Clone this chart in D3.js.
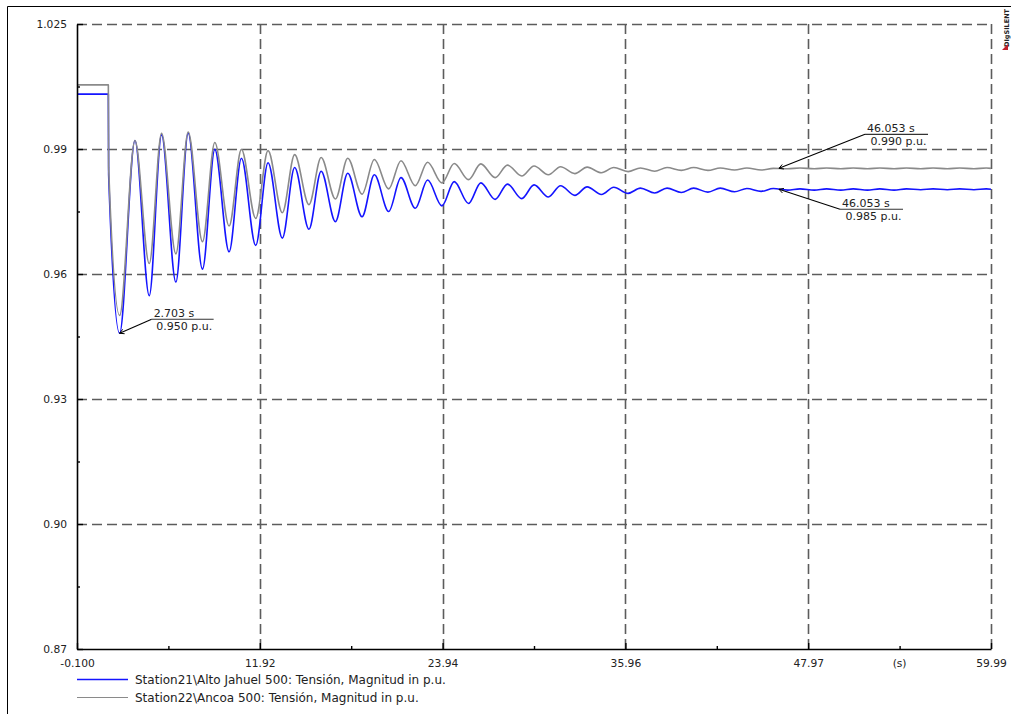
<!DOCTYPE html>
<html><head><meta charset="utf-8">
<script src="https://cdn.jsdelivr.net/npm/d3@7"></script>
<style>
body{margin:0;background:#fff;}
svg{display:block;}
text{font-family:"DejaVu Sans",sans-serif;fill:#222;}
</style>
</head><body>
<svg id="c" width="1011" height="714"></svg>
<script>
// ---- data ----
const timeS = [-0.1, 1.96, 1.98, 2.703, 3.71, 4.65, 5.46, 6.40, 7.21, 8.15, 8.96, 9.90, 10.71, 11.65, 12.46, 13.40, 14.21, 15.15, 15.95, 16.89, 17.70, 18.64, 19.45, 20.39, 21.20, 22.14, 22.95, 23.89, 24.70, 25.64, 26.45, 27.39, 28.20, 29.14, 29.95, 30.89, 31.69, 32.63, 33.44, 34.38, 35.19, 36.13, 36.94, 37.88, 38.69, 39.63, 40.44, 41.38, 42.19, 43.13, 43.94, 44.88, 45.68, 46.62, 47.43, 48.37, 49.18, 50.12, 50.93, 51.87, 52.68, 53.62, 54.43, 55.37, 56.18, 57.12, 57.93, 58.87, 59.68, 59.99];
const altoJahuel = [1.0076, 1.0076, 0.9876, 0.9483, 0.9961, 0.9576, 0.9975, 0.9610, 0.9979, 0.9642, 0.9939, 0.9685, 0.9917, 0.9701, 0.9906, 0.9719, 0.9894, 0.9741, 0.9885, 0.9760, 0.9880, 0.9772, 0.9876, 0.9785, 0.9869, 0.9793, 0.9863, 0.9799, 0.9859, 0.9805, 0.9856, 0.9815, 0.9853, 0.9817, 0.9851, 0.9821, 0.9849, 0.9825, 0.9846, 0.9827, 0.9845, 0.9830, 0.9843, 0.9831, 0.9843, 0.9832, 0.9843, 0.9833, 0.9843, 0.9834, 0.9842, 0.9835, 0.9842, 0.9838, 0.9841, 0.9838, 0.9841, 0.9838, 0.9841, 0.9838, 0.9841, 0.9838, 0.9841, 0.9839, 0.9841, 0.9839, 0.9841, 0.9839, 0.9841, 0.9840];
const ancoa = [1.0099, 1.0099, 0.9895, 0.9527, 0.9961, 0.9656, 0.9979, 0.9680, 0.9982, 0.9710, 0.9956, 0.9749, 0.9939, 0.9768, 0.9936, 0.9782, 0.9926, 0.9802, 0.9919, 0.9816, 0.9917, 0.9828, 0.9914, 0.9841, 0.9911, 0.9849, 0.9907, 0.9856, 0.9904, 0.9864, 0.9903, 0.9869, 0.9900, 0.9873, 0.9898, 0.9876, 0.9896, 0.9879, 0.9895, 0.9881, 0.9894, 0.9884, 0.9893, 0.9885, 0.9894, 0.9887, 0.9894, 0.9887, 0.9893, 0.9888, 0.9893, 0.9888, 0.9892, 0.9891, 0.9893, 0.9891, 0.9893, 0.9891, 0.9893, 0.9891, 0.9893, 0.9891, 0.9893, 0.9891, 0.9893, 0.9891, 0.9893, 0.9891, 0.9893, 0.9892];
const seriesNames = ["Station21\\Alto Jahuel 500: Tensión, Magnitud in p.u.", "Station22\\Ancoa 500: Tensión, Magnitud in p.u."];
const yTickValues = [0.87, 0.901, 0.932, 0.963, 0.994, 1.025];
const yTickLabels = ["0.87", "0.90", "0.93", "0.96", "0.99", "1.025"];
const xTickValues = [-0.1, 11.918, 23.936, 35.954, 47.972, 59.99];
const xTickLabels = ["-0.100", "11.92", "23.94", "35.96", "47.97", "59.99"];
const xUnitLabel = "(s)";
const annTime = [2.703, 46.053, 46.053];
const annValue = [0.9483, 0.9892, 0.9840];
const annTop = ["2.703 s", "46.053 s", "46.053 s"];
const annBottom = ["0.950 p.u.", "0.990 p.u.", "0.985 p.u."];
const logoText = "DIgSILENT";

// ---- layout ----
const svg = d3.select("#c");
const X0 = 77, X1 = 991, Y0 = 649, Y1 = 24;
const x = d3.scaleLinear([-0.1, 59.99], [X0, X1]);
const y = d3.scaleLinear([0.87, 1.025], [Y0, Y1]);
const colors = ["#1414ff", "#8a8a8a"];
const gridColor = "#5c5c5c";

// outer frame
svg.append("path").attr("d", "M7.5,714 V6.5 H1011").attr("fill", "none").attr("stroke", "#000").attr("stroke-width", 1);

// grid
const grid = svg.append("g");
grid.selectAll(".gx").data(xTickValues.slice(1)).join("line")
  .attr("x1", d => Math.round(x(d)) + 0.5).attr("x2", d => Math.round(x(d)) + 0.5)
  .attr("y1", Y0).attr("y2", Y1)
  .attr("stroke", gridColor).attr("stroke-width", 1.6).attr("stroke-dasharray", "10,5");
grid.selectAll(".gy").data(yTickValues.slice(1)).join("line")
  .attr("y1", d => Math.round(y(d)) + 0.5).attr("y2", d => Math.round(y(d)) + 0.5)
  .attr("x1", X0).attr("x2", X1)
  .attr("stroke", gridColor).attr("stroke-width", 1.6).attr("stroke-dasharray", "10,5");

// curves
svg.append("clipPath").attr("id", "clip").append("rect")
  .attr("x", X0).attr("y", Y1 - 2).attr("width", X1 - X0 + 1).attr("height", Y0 - Y1 + 2);
const idx = d3.range(timeS.length);
const series = [altoJahuel, ancoa];
series.forEach((vals, k) => {
  const line = d3.line().x(i => x(timeS[i])).y(i => y(vals[i])).curve(d3.curveMonotoneX);
  svg.append("path").attr("clip-path", "url(#clip)")
    .attr("d", line(idx)).attr("fill", "none")
    .attr("stroke", colors[k]).attr("stroke-width", 1.6).attr("stroke-linejoin", "round");
});

// axes
const fontSz = "10.7px";
const yAxis = d3.axisLeft(y).tickValues(yTickValues).tickFormat((d, i) => yTickLabels[i])
  .tickSizeInner(-6).tickSizeOuter(0).tickPadding(10);
const gy = svg.append("g").attr("transform", `translate(${X0},0)`).call(yAxis);
const yMinor = d3.axisLeft(y).tickValues(d3.pairs(yTickValues).map(p => (p[0] + p[1]) / 2))
  .tickFormat("").tickSizeInner(-3).tickSizeOuter(0);
svg.append("g").attr("transform", `translate(${X0},0)`).call(yMinor).select(".domain").remove();

const xAxis = d3.axisBottom(x).tickValues(xTickValues).tickFormat((d, i) => xTickLabels[i])
  .tickSizeInner(-6).tickSizeOuter(0).tickPadding(10);
const gx = svg.append("g").attr("transform", `translate(0,${Y0})`).call(xAxis);
const xMinor = d3.axisBottom(x).tickValues(d3.pairs(xTickValues).map(p => (p[0] + p[1]) / 2))
  .tickFormat("").tickSizeInner(-3).tickSizeOuter(0);
svg.append("g").attr("transform", `translate(0,${Y0})`).call(xMinor).select(".domain").remove();

svg.selectAll(".domain").attr("stroke", "#000").attr("stroke-width", 1.6);
svg.selectAll(".tick line").attr("stroke", "#000").attr("stroke-width", 1.4);
svg.selectAll(".tick text").attr("font-family", '"DejaVu Sans",sans-serif').attr("font-size", fontSz).attr("fill", "#222");

// x unit label
svg.append("text").attr("x", x((xTickValues[4] + xTickValues[5]) / 2)).attr("y", Y0 + 18)
  .attr("text-anchor", "middle").attr("font-size", fontSz).text(xUnitLabel);

// annotations
const annOffset = [[32, -14], [86, -34], [61, 20]];
const annLen = [62, 63, 63];
annTime.forEach((t, i) => {
  const px = x(t), py = y(annValue[i]);
  const lx = px + annOffset[i][0], ly = py + annOffset[i][1];
  const g = svg.append("g");
  g.append("line").attr("x1", px).attr("y1", py).attr("x2", lx).attr("y2", ly)
    .attr("stroke", "#000").attr("stroke-width", 1.1);
  // small arrow head
  const ang = Math.atan2(ly - py, lx - px);
  const ah = 5;
  const p1 = [px + ah * Math.cos(ang + 0.5), py + ah * Math.sin(ang + 0.5)];
  const p2 = [px + ah * Math.cos(ang - 0.5), py + ah * Math.sin(ang - 0.5)];
  g.append("path").attr("d", `M${p1} L${px},${py} L${p2}`).attr("fill", "none").attr("stroke", "#000").attr("stroke-width", 1);
  g.append("line").attr("x1", lx).attr("y1", ly).attr("x2", lx + annLen[i]).attr("y2", ly)
    .attr("stroke", "#333").attr("stroke-width", 1.1);
  g.append("text").attr("x", lx + 2).attr("y", ly - 2).attr("font-size", "11px").text(annTop[i]);
  g.append("text").attr("x", lx + annLen[i] - 1.5).attr("y", ly + 10.5).attr("text-anchor", "end")
    .attr("font-size", "11px").text(annBottom[i]);
});

// legend
const legY = [679.5, 697.5];
seriesNames.forEach((name, k) => {
  svg.append("line").attr("x1", 77).attr("x2", 128).attr("y1", legY[k]).attr("y2", legY[k])
    .attr("stroke", colors[k]).attr("stroke-width", k === 0 ? 1.6 : 1.2);
  svg.append("text").attr("x", 135).attr("y", legY[k]).attr("dy", "0.36em")
    .attr("font-size", "12px").text(name);
});

// logo
svg.append("text").attr("transform", "translate(1009,47) rotate(-90)")
  .attr("font-size", "6.5px").attr("font-weight", "bold").attr("fill", "#333").text(logoText);
svg.append("path").attr("d", "M1002,50 L1008,44 L1008,50 Z").attr("fill", "#c0202a");
</script>
</body></html>
